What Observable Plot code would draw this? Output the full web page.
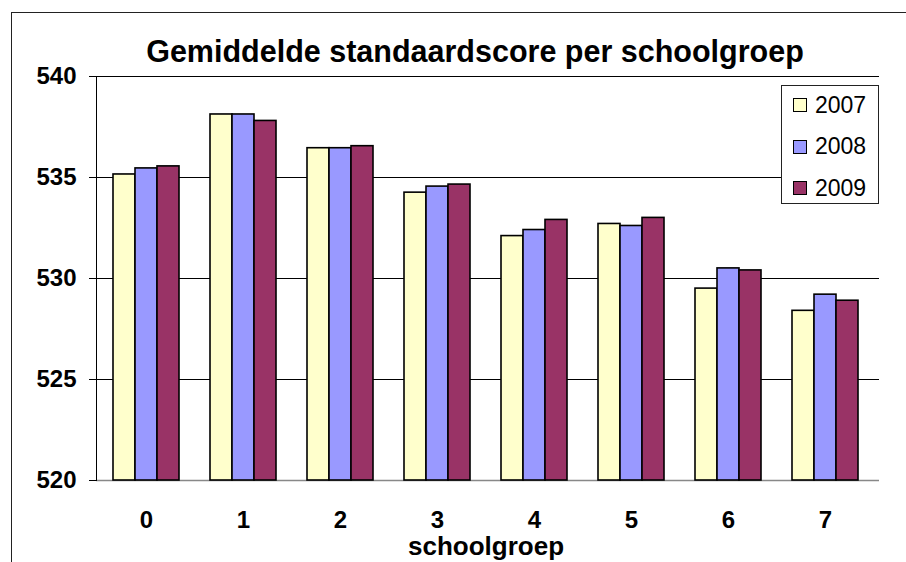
<!DOCTYPE html>
<html><head><meta charset="utf-8">
<script src="https://cdn.jsdelivr.net/npm/d3@7"></script>
<script src="https://cdn.jsdelivr.net/npm/@observablehq/plot@0.6"></script>
<style>
body{margin:0;background:#fff;font-family:"Liberation Sans",Arial,sans-serif;}
#wrap{position:relative;width:906px;height:562px;overflow:hidden;background:#fff}
#wrap svg{position:absolute;left:0;top:0}
#frame{position:absolute;left:11px;top:12px;width:900px;height:560px;border-top:1.5px solid #222;border-left:1.5px solid #222}
#title{position:absolute;left:75px;width:800px;top:34px;text-align:center;font-weight:bold;font-size:30.5px;line-height:normal;color:#000;white-space:nowrap}
#legend{position:absolute;left:781px;top:85px;width:98px;height:119px;border:1px solid #222;background:#fff;box-sizing:border-box}
.row{position:absolute;left:11px;height:30px;display:flex;align-items:center;font-size:23px;color:#000}
.sw{width:12px;height:12px;border:1px solid #000;margin-right:8px}
g[aria-label="fx-axis label"] text{font-size:26px}
</style></head>
<body>
<div id="wrap">
  <div id="frame"></div>
</div>
<script>
const groups = ["0","1","2","3","4","5","6","7"];
const years = ["2007","2008","2009"];
const v2007 = [535.15, 538.12, 536.45, 534.25, 532.10, 532.70, 529.50, 528.40];
const v2008 = [535.45, 538.12, 536.45, 534.55, 532.40, 532.60, 530.50, 529.20];
const v2009 = [535.55, 537.80, 536.55, 534.65, 532.90, 533.00, 530.40, 528.90];
const yTicks = [520, 525, 530, 535, 540];
const colors = ["#FFFFCC", "#9999FF", "#993366"];
const titleText = "Gemiddelde standaardscore per schoolgroep";
const xLabel = "schoolgroep";

const series = [v2007, v2008, v2009];
const data = [];
groups.forEach((g, i) => years.forEach((yr, j) => data.push({group: g, year: yr, value: series[j][i]})));
const yMin = yTicks[0];
const yDomain = [yMin, yTicks[yTicks.length - 1]];

const common = {
  width: 906, height: 562,
  marginLeft: 96, marginTop: 76, marginBottom: 82,
  style: {fontFamily: "Liberation Sans, Arial, sans-serif", fontSize: "24px", fontWeight: "bold", color: "#000", background: "transparent"}
};

// background: gridlines, y axis
const back = Plot.plot({
  ...common,
  marginRight: 27,
  y: {domain: yDomain},
  marks: [
    Plot.ruleY(yTicks.slice(1), {stroke: "#000", strokeWidth: 1}),
    Plot.ruleY([yMin], {stroke: "#888", strokeWidth: 1.5}),
    Plot.frame({anchor: "left", stroke: "#000", strokeWidth: 1}),
    Plot.axisY({ticks: yTicks, tickSize: 7, tickPadding: 13, fontSize: 24, fontWeight: "bold", label: null})
  ]
});

// foreground: bars per schoolgroep
const front = Plot.plot({
  ...common,
  marginRight: 32,
  fx: {domain: groups, paddingInner: 0.321, paddingOuter: 0.16},
  x: {domain: years, padding: 0, axis: null},
  y: {domain: yDomain, axis: null},
  color: {domain: years, range: colors},
  marks: [
    Plot.barY(data, {fx: "group", x: "year", y1: yMin, y2: "value", fill: "year", stroke: "#000", strokeWidth: 1.6}),
    Plot.axisFx({anchor: "bottom", tickSize: 0, tickPadding: 30, fontSize: 24, label: xLabel, labelAnchor: "center", labelOffset: 74})
  ]
});

const wrap = document.getElementById("wrap");
wrap.appendChild(back);
wrap.appendChild(front);

const t = document.createElement("div");
t.id = "title"; t.textContent = titleText; wrap.appendChild(t);

const leg = document.createElement("div");
leg.id = "legend";
years.forEach((yr, j) => {
  const r = document.createElement("div");
  r.className = "row";
  r.style.top = (4 + j * 41.5) + "px";
  const s = document.createElement("div");
  s.className = "sw"; s.style.background = colors[j];
  const l = document.createElement("span"); l.textContent = yr;
  r.appendChild(s); r.appendChild(l); leg.appendChild(r);
});
wrap.appendChild(leg);
</script>
</body></html>
